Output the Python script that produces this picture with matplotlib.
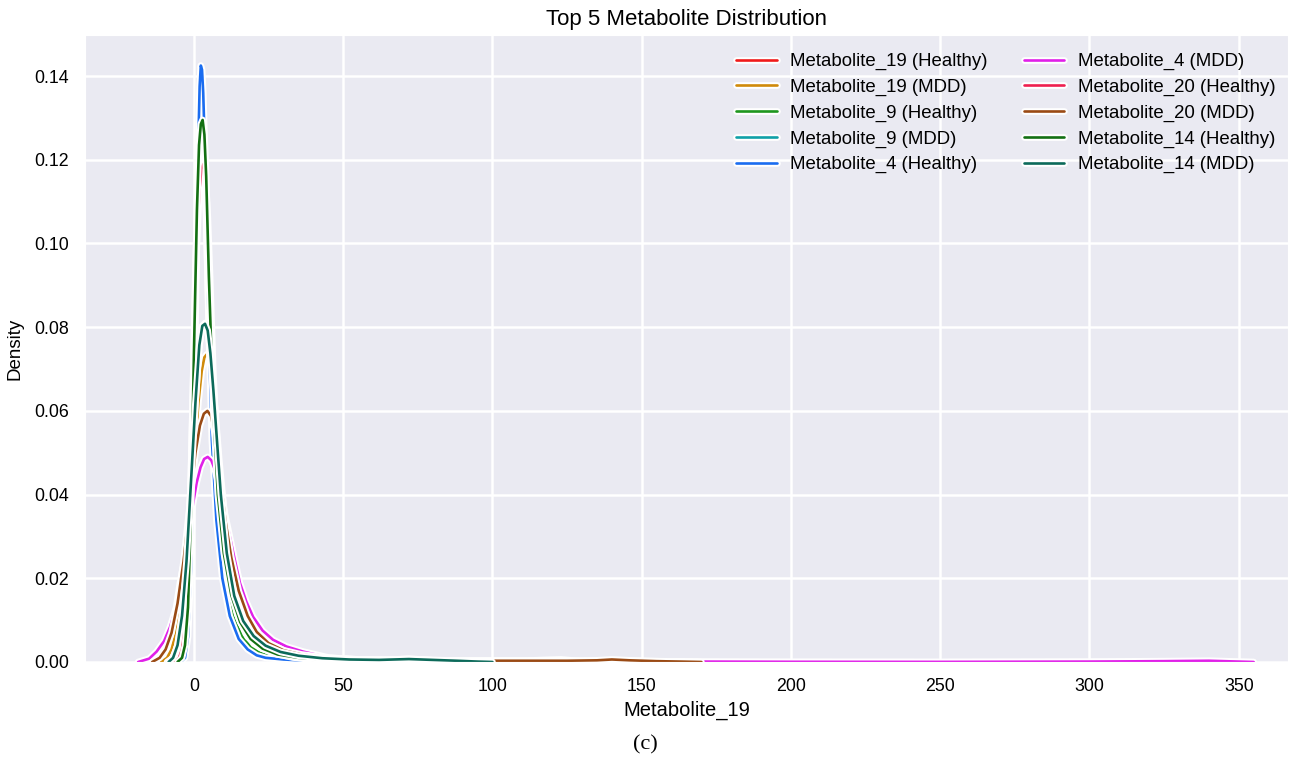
import matplotlib
matplotlib.use("Agg")
import matplotlib.pyplot as plt
import matplotlib.patheffects as pe
import seaborn as sns
from matplotlib.ticker import FormatStrFormatter

# ---- data (density curves) ----
labels = ["Metabolite_19 (Healthy)", "Metabolite_19 (MDD)",
          "Metabolite_9 (Healthy)", "Metabolite_9 (MDD)",
          "Metabolite_4 (Healthy)", "Metabolite_4 (MDD)",
          "Metabolite_20 (Healthy)", "Metabolite_20 (MDD)",
          "Metabolite_14 (Healthy)", "Metabolite_14 (MDD)"]
colors = ["#f01a1a", "#d08a0a", "#1e961e", "#10a0a8", "#1a6cf0",
          "#e020e8", "#ee1f4f", "#9a4a14", "#137013", "#0c6a5a"]

m19_healthy_x = [-6, -4.5, -3.5, -2.5, -1.5, -0.5, 0.5, 1.3, 2.0, 2.6, 3.1, 3.6, 4.2, 5, 6.5, 8, 10, 12.5, 15, 18, 21, 25, 30, 38, 46, 54, 60]
m19_healthy_y = [0, 0.001, 0.004, 0.012, 0.03, 0.06, 0.094, 0.112, 0.1195, 0.1215, 0.120, 0.115, 0.106, 0.088, 0.062, 0.043, 0.028, 0.017, 0.0105, 0.006, 0.0038, 0.0025, 0.0016, 0.0008, 0.0004, 0.0002, 0]

m19_mdd_x = [-11, -9, -7.5, -6, -4.5, -3, -1.5, 0, 1.5, 2.6, 3.5, 4.3, 5.1, 6, 7, 8.5, 10, 12, 14.5, 17, 20, 24, 29, 35, 43, 52, 65, 80, 95, 110, 118, 123, 128, 132]
m19_mdd_y = [0, 0.001, 0.003, 0.007, 0.013, 0.022, 0.034, 0.048, 0.062, 0.0695, 0.0728, 0.0735, 0.0722, 0.068, 0.061, 0.048, 0.037, 0.026, 0.017, 0.0115, 0.0075, 0.0048, 0.003, 0.0019, 0.0011, 0.0007, 0.0004, 0.0003, 0.0003, 0.0003, 0.0005, 0.0006, 0.0003, 0]

m9_healthy_x = [-5, -3.5, -2.5, -1.5, -0.5, 0.5, 1.2, 1.8, 2.3, 2.8, 3.3, 3.8, 4.5, 5.5, 7, 8.5, 10.5, 13, 16, 19, 22, 26, 32, 40, 48, 56]
m9_healthy_y = [0, 0.001, 0.005, 0.018, 0.048, 0.09, 0.115, 0.1275, 0.1308, 0.1300, 0.1245, 0.113, 0.094, 0.068, 0.044, 0.030, 0.019, 0.011, 0.0062, 0.0035, 0.0022, 0.0012, 0.0008, 0.0004, 0.0002, 0]

m9_mdd_x = [-9, -7, -5.5, -4, -2.5, -1, 0.5, 1.8, 2.8, 3.7, 4.6, 5.5, 6.5, 7.5, 9, 11, 13.5, 16, 19, 22.5, 26, 30, 35, 42, 50, 58, 66, 74, 80, 86, 92]
m9_mdd_y = [0, 0.001, 0.004, 0.011, 0.024, 0.043, 0.062, 0.0755, 0.0802, 0.081, 0.0795, 0.0745, 0.066, 0.056, 0.041, 0.027, 0.0165, 0.011, 0.0072, 0.0048, 0.0032, 0.0022, 0.0014, 0.0009, 0.0006, 0.0005, 0.0004, 0.0006, 0.0004, 0.0002, 0]

m4_healthy_x = [-4.5, -3, -2, -1, 0, 0.8, 1.4, 1.9, 2.3, 2.7, 3.1, 3.6, 4.2, 5, 6, 7.5, 9.5, 12, 15, 18, 21, 24, 30, 38, 46, 52]
m4_healthy_y = [0, 0.001, 0.006, 0.022, 0.056, 0.094, 0.122, 0.1375, 0.1425, 0.1415, 0.136, 0.124, 0.104, 0.078, 0.053, 0.034, 0.02, 0.011, 0.0055, 0.003, 0.0016, 0.001, 0.0006, 0.0003, 0.0002, 0]

m4_mdd_x = [-18.7, -15, -12.5, -10, -8, -6, -4.7, -3, -1.9, -0.5, 0.9, 2.2, 3.4, 4.6, 5.8, 7, 8.7, 10.5, 12, 13.5, 15.4, 17.5, 19.8, 23, 26.5, 31, 36.5, 45.5, 55, 70, 90, 110, 130, 150, 170, 200, 250, 300, 325, 340, 350, 355]
m4_mdd_y = [0, 0.0008, 0.0025, 0.005, 0.0084, 0.013, 0.0189, 0.025, 0.0307, 0.037, 0.0428, 0.0465, 0.0485, 0.049, 0.0482, 0.046, 0.041, 0.035, 0.030, 0.025, 0.0189, 0.0145, 0.0108, 0.0075, 0.0053, 0.0037, 0.0025, 0.001, 0.0006, 0.0004, 0.0003, 0.0003, 0.0002, 0.0002, 0.0001, 0.00005, 0.00003, 0.0001, 0.0002, 0.0003, 0.0001, 0]

m20_healthy_x = [-6.5, -5, -4, -3, -2, -1, 0, 1, 1.8, 2.5, 3.2, 3.9, 4.6, 5.4, 6.5, 8, 10, 12.5, 15, 18, 22, 27, 33, 40, 47, 52]
m20_healthy_y = [0, 0.001, 0.003, 0.009, 0.022, 0.045, 0.075, 0.1, 0.1125, 0.118, 0.119, 0.1155, 0.107, 0.092, 0.069, 0.047, 0.029, 0.017, 0.0105, 0.006, 0.0035, 0.002, 0.0011, 0.0005, 0.0002, 0]

m20_mdd_x = [-14, -11.5, -9.5, -7.5, -5.5, -3.5, -1.5, 0.5, 2.0, 3.3, 4.5, 5.7, 7, 8.5, 10.5, 12.5, 15, 18, 21, 25, 30, 36, 45, 55, 70, 90, 110, 125, 135, 140, 146, 155, 163, 170]
m20_mdd_y = [0, 0.001, 0.003, 0.007, 0.014, 0.024, 0.037, 0.05, 0.0565, 0.0593, 0.060, 0.0588, 0.0545, 0.046, 0.034, 0.025, 0.017, 0.011, 0.0072, 0.0045, 0.0028, 0.0018, 0.001, 0.0006, 0.0004, 0.0003, 0.0003, 0.0003, 0.0004, 0.0006, 0.0004, 0.0002, 0.0001, 0]

m14_healthy_x = [-5.5, -4, -3, -2, -1, 0, 1, 1.7, 2.3, 2.9, 3.5, 4.1, 5, 6.5, 8, 10, 12.5, 15.5, 19, 23, 28, 35, 45, 55, 65, 72, 78, 85, 92]
m14_healthy_y = [0, 0.001, 0.004, 0.013, 0.036, 0.074, 0.108, 0.1235, 0.1285, 0.1295, 0.126, 0.116, 0.092, 0.06, 0.04, 0.026, 0.016, 0.0095, 0.0055, 0.0032, 0.0018, 0.001, 0.0006, 0.0004, 0.0005, 0.0008, 0.0005, 0.0002, 0]

m14_mdd_x = [-8.5, -7, -5.5, -4, -2.5, -1, 0.5, 1.8, 2.8, 3.7, 4.6, 5.5, 6.5, 7.5, 9, 11, 13.5, 16.5, 20, 24, 29, 35, 43, 52, 62, 72, 80, 88, 95, 100]
m14_mdd_y = [0, 0.001, 0.004, 0.011, 0.024, 0.043, 0.062, 0.0757, 0.0803, 0.0808, 0.0792, 0.0738, 0.065, 0.055, 0.040, 0.026, 0.0158, 0.0098, 0.0062, 0.0039, 0.0024, 0.0015, 0.0009, 0.0006, 0.0005, 0.0007, 0.0005, 0.0003, 0.0001, 0]

series_x = [m19_healthy_x, m19_mdd_x, m9_healthy_x, m9_mdd_x, m4_healthy_x,
            m4_mdd_x, m20_healthy_x, m20_mdd_x, m14_healthy_x, m14_mdd_x]
series_y = [m19_healthy_y, m19_mdd_y, m9_healthy_y, m9_mdd_y, m4_healthy_y,
            m4_mdd_y, m20_healthy_y, m20_mdd_y, m14_healthy_y, m14_mdd_y]

x_ticks = [0, 50, 100, 150, 200, 250, 300, 350]
y_ticks = [0.00, 0.02, 0.04, 0.06, 0.08, 0.10, 0.12, 0.14]

# ---- styling ----
sns.set_style("darkgrid")
plt.rcParams['font.family'] = ['Liberation Sans', 'DejaVu Sans']
plt.rcParams['text.color'] = 'black'
plt.rcParams['axes.labelcolor'] = 'black'
plt.rcParams['xtick.color'] = 'black'
plt.rcParams['ytick.color'] = 'black'

fig = plt.figure(figsize=(12.9, 7.57), dpi=100)
ax = fig.add_axes([85 / 1290, 95 / 757, 1203 / 1290, 627 / 757])

halo = [pe.Stroke(linewidth=4.8, foreground="white"), pe.Normal()]
for xs, ys, lab, col in zip(series_x, series_y, labels, colors):
    ax.plot(xs, ys, color=col, lw=1.9, label=lab, path_effects=halo,
            solid_joinstyle="round", solid_capstyle="round")

ax.set_xlim(-36.5, 366.5)
ax.set_ylim(0, 0.1498)
ax.set_xticks(x_ticks)
ax.set_yticks(y_ticks)
ax.yaxis.set_major_formatter(FormatStrFormatter('%.2f'))
ax.tick_params(axis='both', labelsize=12.8, colors='black', pad=8)
ax.grid(color='white', linewidth=1.8)

ax.set_title("Top 5 Metabolite Distribution", fontsize=16, pad=7)
ax.set_xlabel("Metabolite_19", fontsize=14.5, labelpad=4)
ax.set_ylabel("Density", fontsize=13.5, labelpad=8)

leg = ax.legend(ncol=2, loc="upper right", frameon=False, fontsize=13.4,
                handlelength=2.2, handletextpad=0.7, columnspacing=1.95,
                labelspacing=0.46, borderaxespad=0.0,
                bbox_to_anchor=(0.9955, 0.983))

fig.text(0.5, 1 - 745 / 757, "(c)", ha="center", va="center", fontsize=16,
         family=["Liberation Serif", "DejaVu Serif"])

fig.savefig("out.png", dpi=100, facecolor="white")
